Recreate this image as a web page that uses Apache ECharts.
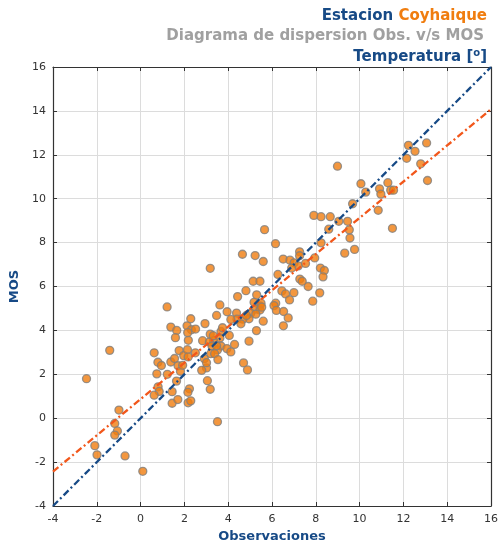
<!DOCTYPE html>
<html>
<head>
<meta charset="utf-8">
<script src="https://cdn.jsdelivr.net/npm/echarts@6/dist/echarts.min.js"></script>
<style>
  html, body { margin: 0; padding: 0; background: #ffffff; }
  #chart { width: 501px; height: 548px; }
</style>
</head>
<body>
<div id="chart"></div>
<script>
// Observed temperature (x) vs MOS forecast (y), station Coyhaique
const obsValues = [
  -2.47, -1.41, -0.99, -1.18, -1.06, -1.18, -2.09, -1.99, -0.71, 0.10, 3.51,
  0.62, 0.79, 0.95, 0.74, 1.22, 0.80, 0.85, 0.62, 1.44, 1.44, 1.70,
  1.21, 1.38, 1.65, 1.59, 1.38, 1.55, 1.71, 1.76, 1.82, 1.92, 1.97,
  2.14, 2.18, 2.12, 1.64, 2.23, 2.16, 2.17, 2.29, 2.29, 2.32, 2.51,
  2.94, 2.15, 3.18, 3.67, 3.74, 4.05, 3.62, 3.33, 2.83, 3.14, 3.26,
  3.67, 3.51, 3.94, 4.29, 4.12, 3.20, 3.38, 2.50, 2.17, 2.91, 3.53,
  3.01, 2.79, 4.70, 4.95, 3.05, 3.18, 4.88, 3.01, 3.47, 3.32,
  3.18, 3.62, 3.47, 3.95, 4.38, 4.65, 5.23, 5.60, 5.66, 6.16,
  5.14, 5.45, 6.27, 4.81, 4.43, 5.30, 6.17, 6.09, 6.20, 6.53,
  6.74, 6.52, 5.60, 5.29, 5.18, 5.44, 5.25, 5.45, 5.50, 5.03,
  5.26, 4.95, 4.67, 4.40, 4.12, 4.83, 4.58, 5.53,
  6.51, 6.82, 7.01, 7.20, 7.53, 7.26, 7.26, 6.90, 8.21, 8.39,
  8.33, 7.27, 7.38, 7.65, 8.18, 7.86, 6.45, 6.62, 7.00, 6.80,
  7.95, 7.91, 8.24, 8.66, 9.05, 9.45, 8.59, 9.53, 9.56, 8.24,
  9.77, 9.32, 8.99, 10.06, 10.28, 9.68, 10.91, 10.97, 10.85,
  12.23, 13.06, 12.53, 12.15, 12.79, 13.10, 11.29, 11.42, 11.55, 11.50
];
const mosValues = [
  1.80, 3.09, 0.37, -0.24, -0.58, -0.77, -1.25, -1.67, -1.72, -2.42, -0.16,
  2.98, 2.55, 2.40, 2.02, 2.00, 1.43, 1.22, 1.05, 1.21, 0.68, 0.85,
  5.07, 4.15, 4.00, 3.67, 2.56, 2.72, 2.39, 3.08, 2.14, 2.41, 2.85,
  3.12, 3.55, 4.21, 1.69, 1.34, 1.18, 0.70, 0.79, 4.53, 4.03, 4.06,
  4.31, 3.90, 3.83, 3.95, 4.12, 3.77, 3.65, 3.53, 3.53, 3.47, 3.29,
  3.29, 3.11, 3.17, 3.36, 3.02, 2.94, 2.94, 2.98, 2.79, 2.71, 2.67,
  2.29, 2.18, 2.52, 3.51, 1.71, 1.32, 2.20, 2.53, 3.30, 3.76,
  6.83, 5.16, 4.68, 4.85, 4.79, 7.47, 7.41, 7.14, 8.59, 7.95,
  6.24, 6.24, 6.55, 5.81, 5.54, 5.62, 5.24, 5.13, 4.91, 4.86,
  4.57, 4.21, 4.42, 3.99, 5.28, 5.12, 4.97, 4.93, 5.24, 4.78,
  4.74, 4.53, 4.51, 4.51, 4.50, 4.68, 4.30, 5.06,
  7.25, 7.20, 7.08, 6.94, 7.05, 7.58, 7.40, 6.84, 6.84, 6.73,
  6.44, 6.34, 6.24, 6.00, 5.71, 5.33, 5.80, 5.66, 5.72, 5.39,
  7.30, 9.24, 9.18, 9.18, 8.97, 8.97, 8.61, 8.58, 8.21, 7.99,
  7.69, 7.52, 11.48, 10.68, 10.30, 9.77, 10.45, 10.21, 9.47,
  12.43, 12.54, 12.16, 11.84, 11.59, 10.83, 10.73, 10.39, 10.39, 8.65
];
const tickValues = [-4, -2, 0, 2, 4, 6, 8, 10, 12, 14, 16];

const axisMin = tickValues[0];
const axisMax = tickValues[tickValues.length - 1];
const axisStep = tickValues[1] - tickValues[0];

// least-squares fit of MOS on observations
function linearFit(xs, ys) {
  const n = xs.length;
  let sx = 0, sy = 0, sxx = 0, sxy = 0;
  for (let i = 0; i < n; i++) {
    sx += xs[i]; sy += ys[i]; sxx += xs[i] * xs[i]; sxy += xs[i] * ys[i];
  }
  const slope = (n * sxy - sx * sy) / (n * sxx - sx * sx);
  return { slope, intercept: (sy - slope * sx) / n };
}
const fit = linearFit(obsValues, mosValues);

const points = obsValues.map((x, i) => [x, mosValues[i]]);
const identityLine = [[axisMin, axisMin], [axisMax, axisMax]];
const fitLine = [axisMin, axisMax].map(x => [x, fit.intercept + fit.slope * x]);

const BLUE = '#174a86';
const ORANGE = '#f07d0f';
const FONT = 'DejaVu Sans';

const baseAxis = {
  type: 'value', min: axisMin, max: axisMax, interval: axisStep,
  axisLine: { show: true, onZero: false, lineStyle: { color: '#333333', width: 1.2 } },
  axisTick: { show: true, inside: true, length: 4, lineStyle: { color: '#333333' } },
  splitLine: { show: false },
  axisLabel: { show: false }
};

const chart = echarts.init(document.getElementById('chart'), null, { renderer: 'canvas' });
chart.setOption({
  backgroundColor: '#ffffff',
  animation: false,
  title: [
    {
      right: 9, top: 4,
      text: '{a|Estacion }{b|Coyhaique}',
      textStyle: {
        rich: {
          a: { fontFamily: FONT, fontWeight: 'bold', fontSize: 15, color: BLUE },
          b: { fontFamily: FONT, fontWeight: 'bold', fontSize: 15, color: ORANGE }
        }
      }
    },
    {
      right: 12, top: 24,
      text: 'Diagrama de dispersion Obs. v/s MOS',
      textStyle: { fontFamily: FONT, fontWeight: 'bold', fontSize: 15, color: '#a0a0a0' }
    },
    {
      right: 9, top: 43,
      text: '{a|Temperatura [}{s|o}{a|]}',
      textStyle: {
        rich: {
          a: { fontFamily: FONT, fontWeight: 'bold', fontSize: 15, color: BLUE, verticalAlign: 'bottom' },
          s: { fontFamily: FONT, fontWeight: 'bold', fontSize: 10, color: BLUE, verticalAlign: 'bottom', padding: [0, 0, 7, 0] }
        }
      }
    }
  ],
  grid: { left: 53, right: 8, top: 67, bottom: 40, containLabel: false },
  xAxis: [
    Object.assign({}, baseAxis, {
      position: 'bottom',
      name: 'Observaciones', nameLocation: 'middle', nameGap: 24,
      nameTextStyle: { fontFamily: FONT, fontWeight: 'bold', fontSize: 13, color: BLUE },
      splitLine: { show: true, lineStyle: { color: '#dcdcdc', width: 1 } },
      axisLabel: { show: true, margin: 8, fontFamily: FONT, fontSize: 11, color: '#333333' }
    }),
    Object.assign({}, baseAxis, { position: 'top' })
  ],
  yAxis: [
    Object.assign({}, baseAxis, {
      position: 'left',
      name: 'MOS', nameLocation: 'middle', nameGap: 26,
      nameTextStyle: { fontFamily: FONT, fontWeight: 'bold', fontSize: 13, color: BLUE },
      splitLine: { show: true, lineStyle: { color: '#dcdcdc', width: 1 } },
      axisLabel: { show: true, margin: 7, fontFamily: FONT, fontSize: 11, color: '#333333' }
    }),
    Object.assign({}, baseAxis, { position: 'right' })
  ],
  series: [
    {
      type: 'scatter', xAxisIndex: 0, yAxisIndex: 0,
      data: points, symbol: 'circle', symbolSize: 8, z: 2,
      itemStyle: { color: ORANGE, borderColor: '#808080', borderWidth: 1.3 }
    },
    {
      type: 'line', xAxisIndex: 0, yAxisIndex: 0,
      data: fitLine, symbol: 'none', z: 3,
      lineStyle: { color: '#f2571b', width: 2.3, type: [7, 3, 2, 3] }
    },
    {
      type: 'line', xAxisIndex: 0, yAxisIndex: 0,
      data: identityLine, symbol: 'none', z: 4,
      lineStyle: { color: BLUE, width: 2.3, type: [7, 3, 2, 3] }
    }
  ]
});
</script>
</body>
</html>
